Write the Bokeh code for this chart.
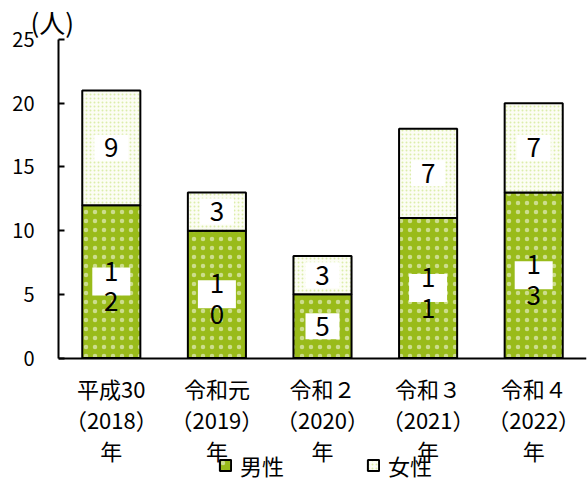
from bokeh.plotting import figure
from bokeh.models import (FactorRange, Range1d, FixedTicker, ColumnDataSource,
                          Legend, LegendItem)
from bokeh.embed import file_html
from bokeh.resources import INLINE

FONT = "Noto Sans CJK JP"

categories = ["平成30\n（2018）\n年", "令和元\n（2019）\n年", "令和２\n（2020）\n年",
              "令和３\n（2021）\n年", "令和４\n（2022）\n年"]
male = [12, 10, 5, 11, 13]
female = [9, 3, 3, 7, 7]
series = ["男性", "女性"]
y_ticks = [0, 5, 10, 15, 20, 25]
unit_label = "(人)"

MALE_COLOR = "#99bb1a"
FEMALE_BG = "#fcfdf4"
FEMALE_DOT = "#dcedaa"

# frame: 37 px top border, 12.8 px per unit, extends to bottom of canvas
Y_LOW = 25 - (482 - 37) / 12.8

p = figure(width=587, height=482, x_range=FactorRange(factors=categories),
           y_range=Range1d(Y_LOW, 25), output_backend="svg",
           toolbar_location=None,
           min_border_left=58, min_border_right=1, min_border_top=37,
           min_border_bottom=0)
p.outline_line_color = None
p.grid.visible = False

src = ColumnDataSource(dict(cat=categories, male=male, female=female))
rs = p.vbar_stack(["male", "female"], x="cat", width=0.55, source=src,
                  fill_color=[MALE_COLOR, FEMALE_BG], line_color="black",
                  line_width=2,
                  hatch_pattern=["dot", "dot"],
                  hatch_color=["white", FEMALE_DOT],
                  hatch_alpha=[0.5, 1.0],
                  hatch_scale=[9, 4], hatch_weight=[1, 1])

# data labels
lab_x, lab_y, box_y, lab_t, box_w, box_h = [], [], [], [], [], []
for c, m, f in zip(categories, male, female):
    for val, center in ((m, m / 2), (f, m + f / 2)):
        s = str(val)
        lab_x.append(c)
        box_y.append(center)
        if len(s) > 1:
            lab_t.append("\n".join(s))
            lab_y.append(center - 0.23)
            box_w.append(38)
            box_h.append(28)
        else:
            lab_t.append(s)
            lab_y.append(center)
            box_w.append(34)
            box_h.append(26)
box_src = ColumnDataSource(dict(x=lab_x, y=box_y, w=box_w, h=box_h))
p.rect(x="x", y="y", width="w", height="h", width_units="screen",
       height_units="screen", source=box_src, fill_color="white",
       line_color=None)
txt_src = ColumnDataSource(dict(x=lab_x, y=lab_y, t=lab_t))
p.text(x="x", y="y", text="t", source=txt_src, text_align="center",
       text_baseline="middle", text_font_size="26px", text_line_height=0.83,
       text_color="black", text_font={"value": FONT})

# y axis
p.yaxis.ticker = FixedTicker(ticks=y_ticks)
p.yaxis.bounds = (y_ticks[0], y_ticks[-1])
p.yaxis.major_tick_in = 6
p.yaxis.major_tick_out = 0
p.yaxis.minor_tick_line_color = None
p.yaxis.axis_line_width = 2
p.yaxis.major_tick_line_width = 2
p.yaxis.major_label_text_font = FONT
p.yaxis.major_label_text_font_size = "20px"
p.yaxis.major_label_text_color = "black"
p.yaxis.major_label_standoff = 24

# x axis fixed at y = 0 inside the frame
p.xaxis.fixed_location = 0
p.xaxis.major_tick_line_color = None
p.xaxis.axis_line_width = 2
p.xaxis.major_label_text_font = FONT
p.xaxis.major_label_text_font_size = "22px"
p.xaxis.major_label_text_color = "black"
p.xaxis.major_label_standoff = 8
p.xaxis.major_label_text_line_height = 0.97

p.title.text = unit_label
p.title.align = "left"
p.title.offset = -28
p.title.text_font = FONT
p.title.text_font_size = "26px"
p.title.text_font_style = "normal"
p.title.text_color = "black"
p.title.standoff = 0

legend = Legend(items=[LegendItem(label=series[0], renderers=[rs[0]]),
                       LegendItem(label=series[1], renderers=[rs[1]])],
                orientation="horizontal", location=(160, 1),
                glyph_width=14, glyph_height=14, label_standoff=8,
                spacing=82, padding=0, margin=0, border_line_color=None,
                background_fill_alpha=0, label_text_font=FONT,
                label_text_font_size="22px", label_text_color="black")
p.add_layout(legend, "center")

open("out.html", "w").write(file_html(p, INLINE))
